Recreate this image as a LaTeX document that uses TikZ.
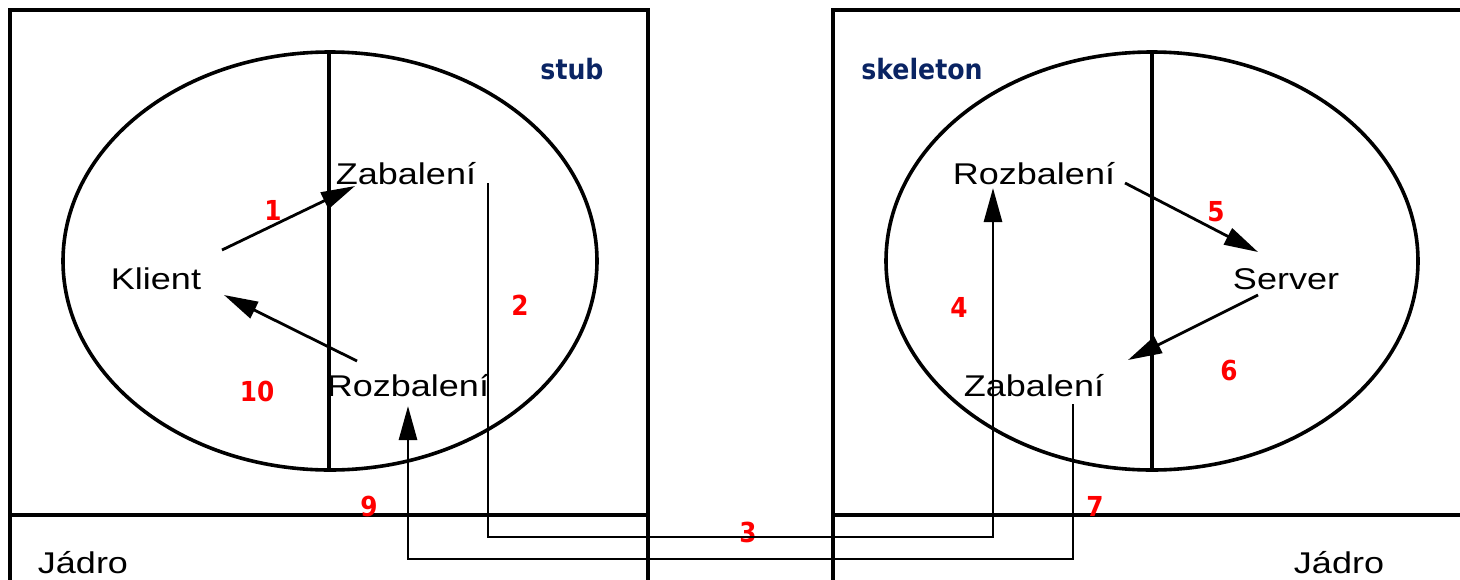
\documentclass[tikz,border=0pt]{standalone}
\usepackage{fontspec}
\newfontfamily\lblfont[FakeStretch=1.2]{Liberation Sans}
\newfontfamily\numfont{DejaVu Sans Condensed Bold}
\usetikzlibrary{arrows.meta}
\definecolor{navyc}{RGB}{10,36,99}
\definecolor{redc}{RGB}{255,0,0}
\begin{document}
\begin{tikzpicture}[x=1pt,y=-1pt,
  lbl/.style={inner sep=0pt, anchor=base, font=\lblfont\fontsize{30}{32}\selectfont},
  num/.style={inner sep=0pt, text=redc, font=\numfont\fontsize{27.5}{29}\selectfont},
  tag/.style={inner sep=0pt, anchor=base, text=navyc, font=\numfont\fontsize{28}{30}\selectfont},
  frame/.style={line width=3.2pt},
  oval/.style={line width=3.6pt},
  divider/.style={line width=3.2pt},
  arr/.style={line width=2.8pt, -{Triangle[length=34pt,width=18pt]}}]
\useasboundingbox (0,0) rectangle (1460,579);
\clip (0,0) rectangle (1460,579);
% frames
\draw[frame] (10,585) -- (10,10) -- (648,10) -- (648,585);
\draw[frame] (10,515) -- (648,515);
\draw[frame] (833,585) -- (833,10) -- (1470,10);
\draw[frame] (833,515) -- (1470,515);
% ovals
\draw[oval] (330,261) ellipse [x radius=267, y radius=209];
\draw[oval] (1152,261) ellipse [x radius=266, y radius=209];
\draw[divider] (329,52) -- (329,470);
\draw[divider] (1152,52) -- (1152,470);
% texts
\node[lbl] (klient) at (156,289) {Klient};
\node[lbl] (zab1) at (406,184) {Zabalení};
\node[lbl] (rozb1) at (408,396) {Rozbalení};
\node[lbl] (rozb2) at (1034,184) {Rozbalení};
\node[lbl] (server) at (1286,289) {Server};
\node[lbl] (zab2) at (1034,396) {Zabalení};
\node[lbl] (jadro1) at (83,573) {Jádro};
\node[lbl] (jadro2) at (1339,573) {Jádro};
\node[tag] (stub) at (572,79) {stub};
\node[tag] (skel) at (922,79) {skeleton};
% numbers
\node[num] (n1) at (273,210) {1};
\node[num] (n2) at (520,305) {2};
\node[num] (n3) at (748,532) {3};
\node[num] (n4) at (959,307) {4};
\node[num] (n5) at (1216,212) {5};
\node[num] (n6) at (1229,370) {6};
\node[num] (n7) at (1095,506) {7};
\node[num] (n9) at (369,506) {9};
\node[num] (n10) at (257,391) {10};
% connector end points
\coordinate (k-out) at (222,250);
\coordinate (z1-in) at (355,186);
\coordinate (r1-out) at (357,361);
\coordinate (k-in) at (224,295);
\coordinate (z1-out) at (488,183);
\coordinate (r2-in) at (993,188);
\coordinate (r2-out) at (1125,183);
\coordinate (s-in) at (1258,252);
\coordinate (s-out) at (1258,295);
\coordinate (z2-in) at (1128,360);
\coordinate (z2-out) at (1073,404);
\coordinate (r1-in) at (408,406);
% connectors
\draw[arr] (k-out) -- (z1-in);
\draw[arr] (r1-out) -- (k-in);
\draw[arr] (z1-out) -- (488,537) -| (r2-in);
\draw[arr] (r2-out) -- (s-in);
\draw[arr] (s-out) -- (z2-in);
\draw[arr] (z2-out) -- (1073,559) -| (r1-in);
\end{tikzpicture}
\end{document}
